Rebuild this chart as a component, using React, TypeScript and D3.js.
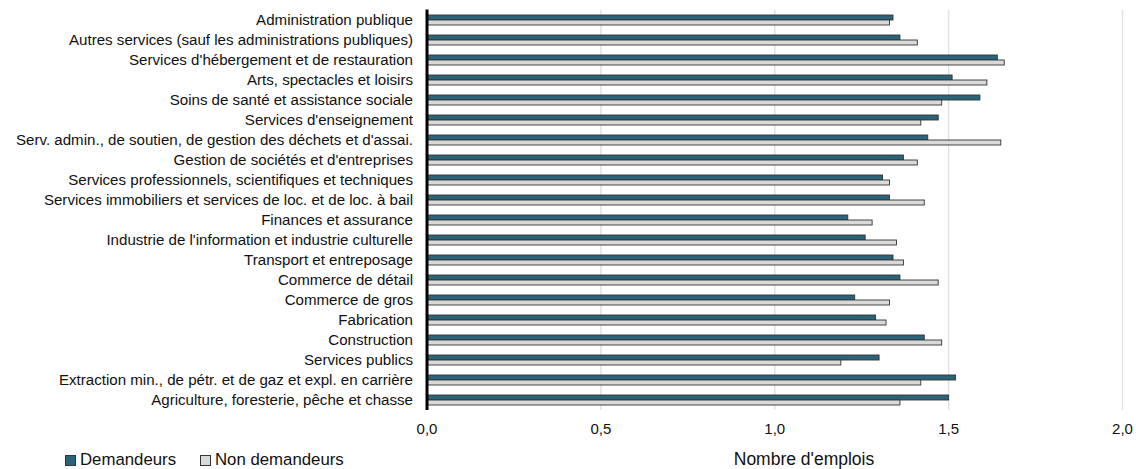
import React from "react";
import * as d3 from "d3";

const categories = [
  "Administration publique",
  "Autres services (sauf les administrations publiques)",
  "Services d'hébergement et de restauration",
  "Arts, spectacles et loisirs",
  "Soins de santé et assistance sociale",
  "Services d'enseignement",
  "Serv. admin., de soutien, de gestion des déchets et d'assai.",
  "Gestion de sociétés et d'entreprises",
  "Services professionnels, scientifiques et techniques",
  "Services immobiliers et services de loc. et de loc. à bail",
  "Finances et assurance",
  "Industrie de l'information et industrie culturelle",
  "Transport et entreposage",
  "Commerce de détail",
  "Commerce de gros",
  "Fabrication",
  "Construction",
  "Services publics",
  "Extraction min., de pétr. et de gaz et expl. en carrière",
  "Agriculture, foresterie, pêche et chasse",
];

const demandeurs = [1.34, 1.36, 1.64, 1.51, 1.59, 1.47, 1.44, 1.37, 1.31, 1.33, 1.21, 1.26, 1.34, 1.36, 1.23, 1.29, 1.43, 1.30, 1.52, 1.50];
const nonDemandeurs = [1.33, 1.41, 1.66, 1.61, 1.48, 1.42, 1.65, 1.41, 1.33, 1.43, 1.28, 1.35, 1.37, 1.47, 1.33, 1.32, 1.48, 1.19, 1.42, 1.36];

const xTicks = [0, 0.5, 1.0, 1.5, 2.0];
const seriesNames = ["Demandeurs", "Non demandeurs"];
const axisTitle = "Nombre d'emplois";

const COLORS = ["#2b6378", "#d9d9d9"];
const FONT = "'Liberation Sans', Arial, Helvetica, sans-serif";

export default function App() {
  const W = 1136;
  const H = 469;
  const x = d3.scaleLinear().domain([0, 2]).range([427, 1122.5]);
  const y = d3.scaleBand<string>().domain(categories).range([10, 410]).paddingInner(0.5).paddingOuter(0.25);
  const bw = y.bandwidth() / 2;
  const fmt = (v: number) => d3.format(".1f")(v).replace(".", ",");

  return (
    <svg width={W} height={H} style={{ position: "absolute", left: 0, top: 0, background: "#fff" }} fontFamily={FONT}>
      {xTicks.slice(1).map((t) => (
        <line key={"g" + t} x1={x(t)} x2={x(t)} y1={10} y2={410} stroke="#e3e3e3" strokeWidth={1.5} />
      ))}
      {categories.map((c, i) => (
        <g key={c}>
          <rect x={x(0)} y={y(c)!} width={x(demandeurs[i]) - x(0)} height={bw} fill={COLORS[0]} stroke="#333" strokeWidth={0.9} />
          <rect x={x(0)} y={y(c)! + bw} width={x(nonDemandeurs[i]) - x(0)} height={bw} fill={COLORS[1]} stroke="#333" strokeWidth={0.9} />
          <text x={413} y={y(c)! + bw} dy="0.35em" textAnchor="end" fontSize={15.1} fill="#111">
            {c}
          </text>
        </g>
      ))}
      <line x1={x(0)} x2={x(0)} y1={9.5} y2={410} stroke="#000" strokeWidth={3} />
      {xTicks.map((t) => (
        <text key={"t" + t} x={x(t)} y={434} textAnchor="middle" fontSize={15} fill="#111">
          {fmt(t)}
        </text>
      ))}
      <text x={804} y={465} textAnchor="middle" fontSize={17.5} fill="#111">
        {axisTitle}
      </text>
      {seriesNames.map((s, i) => {
        const lx = [65, 200][i];
        return (
          <g key={s}>
            <rect x={lx + 0.5} y={455.5} width={10} height={10} fill={COLORS[i]} stroke="#333" strokeWidth={1} />
            <text x={lx + 15} y={465} fontSize={16.8} fill="#111">
              {s}
            </text>
          </g>
        );
      })}
    </svg>
  );
}
